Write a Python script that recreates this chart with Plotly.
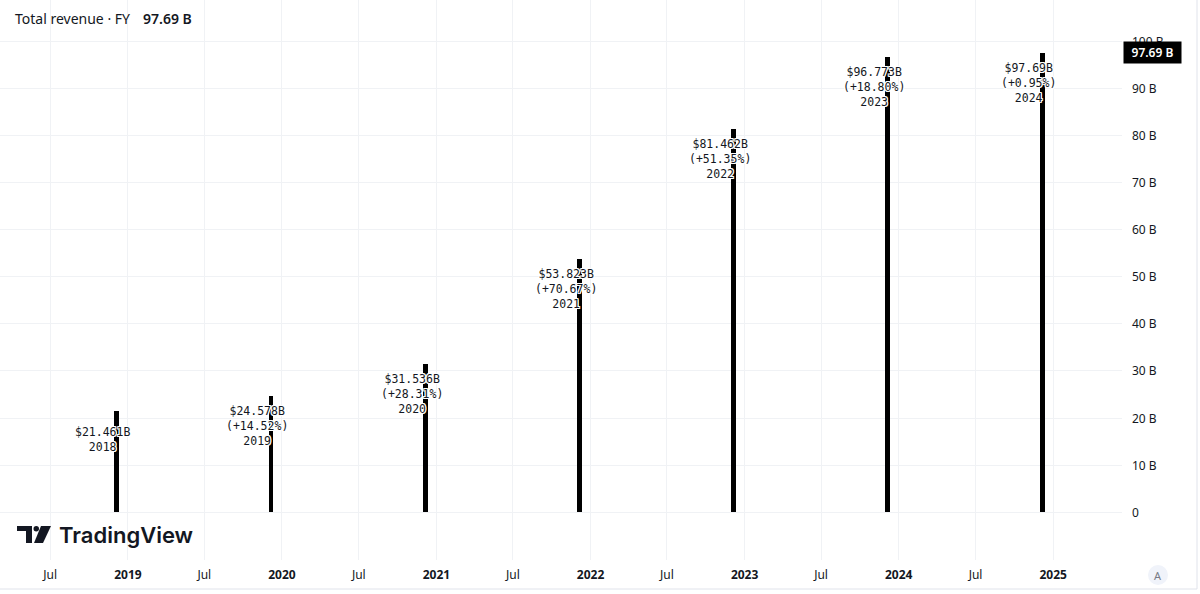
import plotly.graph_objects as go

# ---- data ----
fiscal_years = ["2018", "2019", "2020", "2021", "2022", "2023", "2024"]
period_dates = ["2018-12-06", "2019-12-06", "2020-12-06", "2021-12-06",
                "2022-12-06", "2023-12-06", "2024-12-06"]
revenue_b = [21.461, 24.578, 31.536, 53.823, 81.462, 96.773, 97.69]
revenue_labels = ["$21.461B", "$24.578B", "$31.536B", "$53.823B",
                  "$81.462B", "$96.773B", "$97.69B"]
growth_labels = ["", "(+14.52%)", "(+28.31%)", "(+70.67%)",
                 "(+51.35%)", "(+18.80%)", "(+0.95%)"]
y_tick_vals = [0, 10, 20, 30, 40, 50, 60, 70, 80, 90, 100]
y_tick_text = ["0", "10 B", "20 B", "30 B", "40 B", "50 B", "60 B",
               "70 B", "80 B", "90 B", "100 B"]
x_tick_vals = ["2018-07-01", "2019-01-01", "2019-07-01", "2020-01-01",
               "2020-07-01", "2021-01-01", "2021-07-01", "2022-01-01",
               "2022-07-01", "2023-01-01", "2023-07-01", "2024-01-01",
               "2024-07-01", "2025-01-01"]
x_tick_text = ["Jul", "<b>2019</b>", "Jul", "<b>2020</b>", "Jul", "<b>2021</b>",
               "Jul", "<b>2022</b>", "Jul", "<b>2023</b>", "Jul", "<b>2024</b>",
               "Jul", "<b>2025</b>"]
title_name = "Total revenue · FY"
title_value = "97.69 B"
last_value_text = "97.69 B"

W, H = 1200, 594
ML, MR, MT, MB = 0, 78, 0, 34
PW, PH = W - ML - MR, H - MT - MB

def px(x):
    return (x - ML) / PW

def py(y):
    return 1 - (y - MT) / PH

TXT = "#131722"
GRID = "#f0f2f5"
SANS = "Noto Sans"
MONO = "DejaVu Sans Mono"

fig = go.Figure()
fig.add_trace(go.Bar(
    x=period_dates, y=revenue_b,
    width=[1.02e9] * len(revenue_b),
    marker=dict(color="#000000", line=dict(width=0)),
    hoverinfo="skip", showlegend=False,
))

halo = ("1px 1px 0px #fff, -1px -1px 0px #fff, 1px -1px 0px #fff, "
        "-1px 1px 0px #fff, 0px 1px 0px #fff, 0px -1px 0px #fff, "
        "1px 0px 0px #fff, -1px 0px 0px #fff")

annotations = []
for d, v, lab, g, fy in zip(period_dates, revenue_b, revenue_labels,
                            growth_labels, fiscal_years):
    lines = [lab] + ([g] if g else []) + [fy]
    annotations.append(dict(
        x=d, y=v, xref="x", yref="y", text="<br>".join(lines),
        showarrow=False, xanchor="center", yanchor="top",
        xshift=-14, yshift=-6 if g else -12,
        font=dict(family=MONO, size=11.5, color=TXT, shadow=halo),
        align="center",
    ))

# right-hand value axis labels (left-aligned, as in the reference)
for v, t in zip(y_tick_vals, y_tick_text):
    annotations.append(dict(
        x=px(1130), y=v, xref="paper", yref="y", text=t,
        showarrow=False, xanchor="left", yanchor="middle",
        font=dict(family=SANS, size=12, color=TXT),
    ))

# title
annotations.append(dict(
    x=px(13), y=py(7), xref="paper", yref="paper", text=title_name,
    showarrow=False, xanchor="left", yanchor="top",
    font=dict(family=SANS, size=14, color=TXT),
))
annotations.append(dict(
    x=px(141), y=py(7), xref="paper", yref="paper", text=title_value,
    showarrow=False, xanchor="left", yanchor="top",
    font=dict(family=SANS, size=14, color=TXT, weight=600),
))
# last value label
annotations.append(dict(
    x=px(1123), y=revenue_b[-1], xref="paper", yref="y", text=last_value_text,
    showarrow=False, xanchor="left", yanchor="middle",
    bgcolor="#000000", borderpad=2, width=53,
    font=dict(family=SANS, size=12, color="#ffffff", weight=600),
))
# TradingView wordmark
annotations.append(dict(
    x=px(57), y=py(535), xref="paper", yref="paper", text="TradingView",
    showarrow=False, xanchor="left", yanchor="middle",
    font=dict(family="Inter", size=22, color=TXT, weight=600),
))
# "A" auto-scale button
annotations.append(dict(
    x=px(1158), y=py(575), xref="paper", yref="paper", text="A",
    showarrow=False, xanchor="center", yanchor="middle",
    font=dict(family=SANS, size=11, color="#787b86"),
))

shapes = [
    # logo icon
    dict(type="rect", xref="paper", yref="paper", x0=px(17), x1=px(32),
         y0=py(531), y1=py(526), fillcolor=TXT, line=dict(width=0)),
    dict(type="rect", xref="paper", yref="paper", x0=px(26), x1=px(32),
         y0=py(543), y1=py(526), fillcolor=TXT, line=dict(width=0)),
    dict(type="circle", xref="paper", yref="paper", x0=px(33.5), x1=px(39),
         y0=py(531.5), y1=py(526), fillcolor=TXT, line=dict(width=0)),
    dict(type="path", xref="paper", yref="paper",
         path=f"M {px(41)} {py(526)} L {px(51)} {py(526)} L {px(43)} {py(543)} "
              f"L {px(34)} {py(543)} Z",
         fillcolor=TXT, line=dict(width=0)),
    # A button circle
    dict(type="circle", xref="paper", yref="paper", x0=px(1148), x1=px(1168),
         y0=py(585), y1=py(565), fillcolor="#f0f3fa", line=dict(width=0),
         layer="below"),
    # bottom border
    dict(type="line", xref="paper", yref="paper", x0=0, x1=px(1197),
         y0=py(589), y1=py(589), line=dict(color="#e0e3eb", width=1)),
    # right border
    dict(type="line", xref="paper", yref="paper", x0=px(1197), x1=px(1197),
         y0=py(0), y1=py(589), line=dict(color="#e0e3eb", width=1)),
]

fig.update_layout(
    width=W, height=H,
    margin=dict(l=ML, r=MR, t=MT, b=MB),
    paper_bgcolor="#ffffff", plot_bgcolor="#ffffff",
    bargap=0,
    annotations=annotations, shapes=shapes,
    xaxis=dict(
        type="date", range=["2018-03-04", "2025-06-13"],
        tickmode="array", tickvals=x_tick_vals, ticktext=x_tick_text,
        showgrid=True, gridcolor=GRID, gridwidth=1,
        zeroline=False, showline=False,
        ticks="outside", ticklen=4, tickcolor="rgba(0,0,0,0)",
        tickfont=dict(family=SANS, size=12, color=TXT),
        fixedrange=True,
    ),
    yaxis=dict(
        side="right", range=[-10.2, 108.9],
        tickmode="array", tickvals=y_tick_vals, ticktext=y_tick_text,
        showgrid=True, gridcolor=GRID, gridwidth=1,
        zeroline=False, showline=False, showticklabels=False, ticks="",
        fixedrange=True,
    ),
    hovermode=False,
)

fig.write_html("out.html", config={"displayModeBar": False})

# remove the browser's default page margin so the figure sits at (0, 0)
with open("out.html", "r", encoding="utf-8") as f:
    html = f.read()
html = html.replace("<head>", "<head><style>html,body{margin:0;padding:0;overflow:hidden;}</style>", 1)
with open("out.html", "w", encoding="utf-8") as f:
    f.write(html)
